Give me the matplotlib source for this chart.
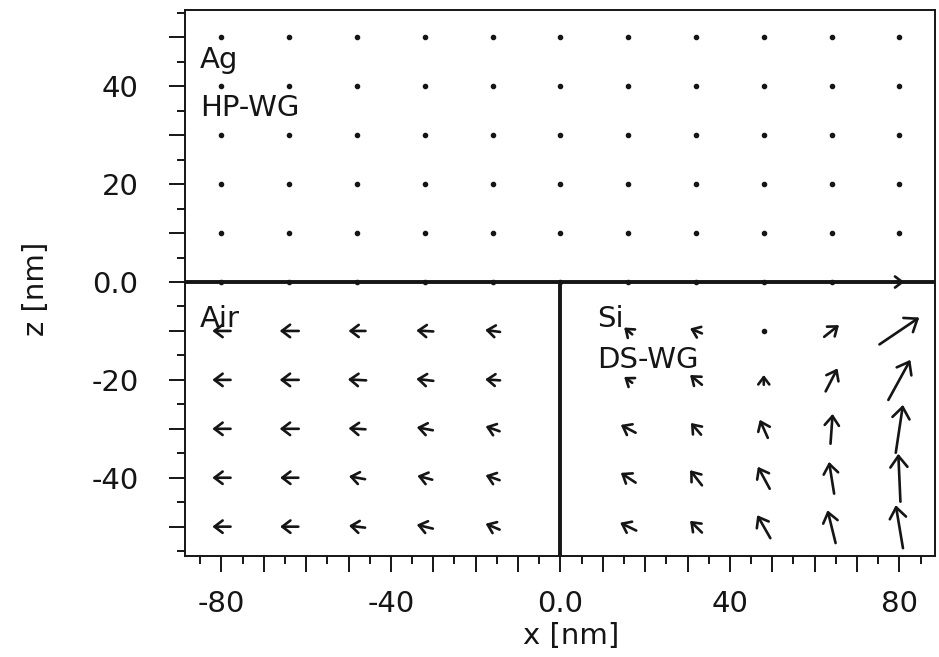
import matplotlib
matplotlib.use('Agg')
import matplotlib.pyplot as plt
from matplotlib.patches import FancyArrowPatch
from matplotlib.ticker import MultipleLocator, FuncFormatter
import numpy as np

plt.rcParams['axes.unicode_minus'] = False
plt.rcParams['font.family'] = 'DejaVu Sans'

# grid of sample points [nm]
x_all = [-80, -64, -48, -32, -16, 0, 16, 32, 48, 64, 80]
z_top = [50, 40, 30, 20, 10]
x_air = [-80, -64, -48, -32, -16]
x_si = [16, 32, 48, 64, 80]
z_bot = [-10, -20, -30, -40, -50]

# arrow components in the air region (rows z=-10..-50, cols x=-80..-16) [nm]
air_u = [[-4.3, -4.5, -4.0, -4.0, -3.5],
         [-4.3, -4.5, -4.3, -4.0, -3.5],
         [-4.3, -4.5, -4.0, -3.8, -3.3],
         [-4.3, -4.3, -3.8, -3.5, -3.3],
         [-4.3, -4.3, -3.8, -3.8, -3.3]]
air_w = [[0.0, 0.0, 0.0, 0.2, 0.4],
         [0.0, 0.0, 0.2, 0.4, 0.2],
         [0.0, 0.0, 0.2, 0.6, 1.0],
         [0.0, 0.0, 0.6, 0.8, 1.0],
         [0.0, 0.0, 0.4, 0.8, 1.2]]

# arrow components in the Si region (rows z=-10..-50, cols x=16..80) [nm]
si_u = [[-1.9, -2.8, 0.0, 3.5, 9.4],
        [-1.9, -2.8, 0.0, 2.8, 5.2],
        [-3.5, -2.4, -1.9, 0.5, 1.7],
        [-3.5, -2.8, -2.8, -1.2, -0.5],
        [-3.8, -2.8, -3.1, -1.9, -1.7]]
si_w = [[1.4, 1.0, 0.6, 2.4, 5.5],
        [1.2, 2.0, 2.0, 4.7, 8.2],
        [1.6, 2.4, 3.7, 6.1, 9.8],
        [2.0, 3.1, 4.5, 6.5, 9.8],
        [1.6, 2.4, 4.7, 6.7, 8.8]]

# interface row z=0: only the last point carries a visible arrow
iface_u = [0, 0, 0, 0, 0, 0, 0, 0, 0, 0, 2.4]

labels = [('Ag', -85.0, 43.7), ('HP-WG', -85.0, 33.9),
          ('Air', -85.0, -9.2), ('Si', 8.6, -9.2), ('DS-WG', 8.6, -17.6)]

ink = '#151515'
fs = 21
fig = plt.figure(figsize=(9.39, 6.57), dpi=100)
ax = fig.add_axes([0.197, 0.1537, 0.7987, 0.8311])
ax.set_xlim(-88.6, 88.4)
ax.set_ylim(-56, 55.6)


def draw_vec(x, z, u, w):
    if np.hypot(u, w) < 0.8:
        ax.plot(x, z, 'o', color=ink, markersize=3, zorder=3)
        return
    lpx = np.hypot(u * 4.235, w * 4.9)
    ms = 9 + 0.15 * lpx
    arr = FancyArrowPatch((x - u / 2, z - w / 2), (x + u / 2, z + w / 2),
                          arrowstyle='->,head_length=0.5,head_width=0.38',
                          mutation_scale=ms, lw=1.9, color=ink,
                          shrinkA=0, shrinkB=0, zorder=3)
    ax.add_patch(arr)


for z in z_top:
    for x in x_all:
        draw_vec(x, z, 0, 0)
for x, u in zip(x_all, iface_u):
    draw_vec(x, 0, u, 0)
for i, z in enumerate(z_bot):
    for j, x in enumerate(x_air):
        draw_vec(x, z, air_u[i][j], air_w[i][j])
    for j, x in enumerate(x_si):
        draw_vec(x, z, si_u[i][j], si_w[i][j])

# material boundaries
ax.axhline(0, color=ink, lw=2.8, zorder=2)
ax.plot([0, 0], [0, -56], color=ink, lw=2.8, zorder=2)

for txt, tx, tz in labels:
    ax.text(tx, tz, txt, fontsize=fs, color=ink, va='baseline', ha='left')

for s in ax.spines.values():
    s.set_linewidth(1.4)
    s.set_color(ink)

ax.xaxis.set_major_locator(MultipleLocator(10))
ax.xaxis.set_minor_locator(MultipleLocator(5))
ax.yaxis.set_major_locator(MultipleLocator(10))
ax.yaxis.set_minor_locator(MultipleLocator(5))


def fmt(step):
    def f(v, pos):
        if abs(v) < 1e-9:
            return '0.0'
        if round(v) % step == 0:
            return f'{v:.0f}'
        return ''
    return FuncFormatter(f)


ax.xaxis.set_major_formatter(fmt(40))
ax.yaxis.set_major_formatter(fmt(20))
ax.tick_params(which='major', direction='out', length=11.5, width=1.4,
               color=ink, labelsize=fs, labelcolor=ink)
ax.tick_params(which='minor', direction='out', length=6, width=1.4, color=ink)
ax.tick_params(axis='y', which='major', pad=22)
ax.tick_params(axis='x', which='major', pad=13)

ax.set_xlabel('x [nm]', fontsize=fs, color=ink)
ax.set_ylabel('z [nm]', fontsize=fs, color=ink)
ax.xaxis.set_label_coords(0.515, -0.121)
ax.yaxis.set_label_coords(-0.18, 0.489)

fig.savefig('out.png', dpi=100)
